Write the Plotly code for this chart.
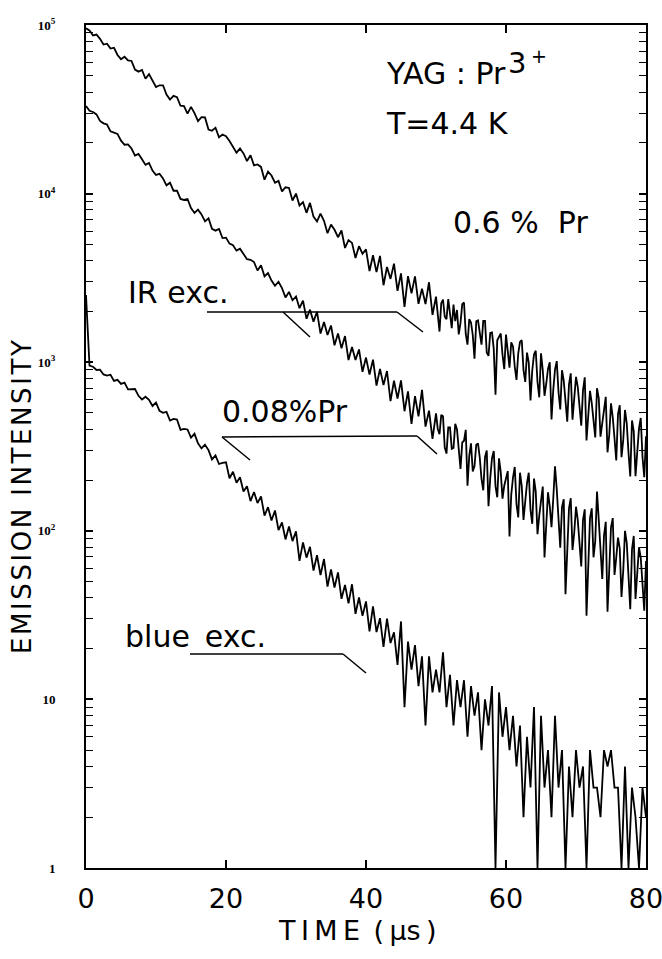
import plotly.graph_objects as go

# time bases (µs): 0.5 µs sampling, 0.25 µs sampling after 50 µs for IR-excited traces
time_blue = [i * 0.5 for i in range(161)]
time_ir = [i * 0.5 for i in range(100)] + [50 + i * 0.25 for i in range(121)]

# 0.6 % Pr, IR excitation
pr06_ir = [
    95500, 92800, 86700, 87800, 82800, 76600, 77500, 72500, 73300, 66400,
    62700, 64800, 61700, 61200, 54400, 52900, 54100, 48000, 51100, 46900,
    42900, 43900, 43900, 38700, 36100, 38000, 37300, 33200, 33000, 29800,
    32700, 30000, 26900, 28400, 28300, 24000, 23600, 24600, 21600, 22400,
    21900, 20500, 19000, 17500, 18500, 17300, 15600, 16900, 14700, 14900,
    14400, 12100, 13500, 12800, 11600, 11900, 10300, 10900, 10800, 9100,
    10000, 8500, 8900, 7690, 8810, 7300, 6840, 7600, 6900, 5820,
    6550, 6100, 5510, 6040, 4760, 5300, 5100, 4150, 4880, 4400,
    4670, 3470, 4310, 3420, 4270, 2860, 3670, 3120, 3840, 2650,
    3360, 2130, 3240, 2560, 3230, 2220, 2730, 2210, 2980, 1910,
    # 50 .. 80 µs, 0.25 µs steps
    2450, 1870, 1520, 2240, 2350, 1860, 1800, 2370, 2010, 1590,
    2200, 1750, 2040, 1460, 1710, 2210, 2260, 1470, 1270, 1800,
    1720, 1450, 1050, 1750, 1770, 1440, 1270, 1760, 1760, 1140,
    1090, 1490, 1500, 1200, 642, 1350, 1420, 1480, 1110, 911,
    1460, 1160, 928, 1310, 1240, 941, 785, 1130, 1320, 1350,
    898, 764, 1140, 993, 594, 896, 1110, 1170, 763, 619,
    1130, 899, 632, 745, 913, 1000, 458, 684, 903, 1015,
    666, 524, 896, 776, 555, 444, 739, 859, 456, 608,
    819, 713, 537, 420, 680, 813, 343, 479, 676, 572,
    456, 358, 701, 613, 362, 446, 536, 623, 292, 370,
    570, 471, 354, 261, 492, 556, 273, 346, 521, 433,
    291, 210, 451, 389, 211, 304, 405, 467, 273, 208,
    364,
]

# 0.08 % Pr, IR excitation
pr008_ir = [
    33100, 31000, 30500, 29500, 27000, 26100, 25700, 23400, 23000, 22600,
    20600, 19500, 19600, 18500, 16800, 17200, 16000, 14800, 15200, 13700,
    12900, 13100, 12300, 11200, 11600, 10400, 10400, 9300, 9170, 9290,
    8210, 7680, 8030, 7530, 6840, 7140, 6180, 6030, 6170, 5450,
    5480, 5050, 4940, 4590, 4710, 4410, 4080, 4050, 3930, 3500,
    3760, 3230, 3380, 3050, 2840, 3000, 2750, 2420, 2610, 2330,
    2450, 2090, 2320, 1810, 2050, 1740, 1990, 1480, 1730, 1450,
    1650, 1260, 1480, 1210, 1430, 1030, 1230, 1030, 1190, 877,
    1065, 844, 1035, 726, 913, 733, 887, 587, 776, 609,
    780, 512, 671, 431, 629, 477, 686, 415, 516, 351,
    # 50 .. 80 µs, 0.25 µs steps
    497, 402, 374, 487, 478, 312, 287, 411, 411, 306,
    310, 431, 399, 305, 233, 334, 342, 397, 185, 278,
    330, 225, 242, 324, 330, 272, 203, 174, 273, 299,
    140, 206, 270, 297, 184, 158, 269, 223, 155, 185,
    210, 226, 92.5, 164, 207, 239, 144, 120, 221, 184,
    116, 154, 192, 221, 133, 110, 204, 171, 95.6, 123,
    157, 183, 69.5, 110, 169, 140, 105, 155, 241, 176,
    112, 79.3, 138, 154, 42.1, 86.3, 136, 156, 77, 97.7,
    139, 116, 85.3, 61.5, 116, 134, 31.4, 67.7, 119, 136,
    69.6, 86.9, 171, 116, 74.5, 51.8, 93.6, 113, 33.1, 61.1,
    105, 119, 54.7, 69.3, 91.1, 78.5, 40.5, 58.1, 100, 84.7,
    55.7, 34.3, 77.7, 93.2, 39.4, 58.2, 79.8, 69.2, 46.5, 33.6,
    66.3,
]

# blue excitation
blue_exc = [
    2500, 955, 940, 899, 903, 846, 832, 843, 774, 786,
    744, 757, 690, 689, 693, 632, 601, 624, 599, 550,
    576, 515, 501, 508, 451, 461, 457, 397, 402, 399,
    357, 376, 330, 308, 324, 301, 265, 280, 249, 253,
    255, 205, 224, 193, 208, 171, 184, 150, 170, 146,
    160, 123, 138, 115, 132, 101, 112, 88.9, 106, 86.9,
    99.2, 66.3, 85.3, 69.3, 80.3, 58.1, 71.6, 54.6, 68, 46.7,
    59.1, 46.1, 56.6, 39.5, 47.8, 37.1, 48.2, 32.2, 40.2, 31.3,
    38.1, 25.3, 35.6, 25.1, 30.3, 20.5, 30.1, 21.6, 25, 16,
    29, 9, 22, 15, 21, 12, 18, 7, 18, 11,
    15, 11, 19, 9, 14, 7, 13, 9, 13, 6,
    12, 8, 11, 5, 10, 7, 12, 1, 11, 6,
    9, 5, 8, 4, 7, 2, 6, 3, 9, 1,
    8, 3, 5, 2, 8, 3, 5, 1, 4, 2,
    5, 3, 4, 1, 5, 3, 3, 2, 5, 4,
    5, 3, 3, 1, 4, 1, 3, 2, 1, 3,
    2,
]

x_ticks = [0, 20, 40, 60, 80]
y_ticks = [1, 10, 100, 1000, 10000, 100000]
y_ticktext = ["1", "10", "10<sup>2</sup>", "10<sup>3</sup>", "10<sup>4</sup>", "10<sup>5</sup>"]
y_minor = [k * 10 ** e for e in range(5) for k in range(2, 10)]

W, H = 662, 959
L, R, T, B = 86, 646, 25, 868


def px(x):
    return (x - L) / (R - L)


def py(y):
    return (B - y) / (B - T)


fig = go.Figure()
for tx, series in ((time_ir, pr06_ir), (time_ir, pr008_ir), (time_blue, blue_exc)):
    fig.add_trace(go.Scatter(x=tx, y=series, mode="lines",
                             line=dict(color="black", width=1.8),
                             showlegend=False, hoverinfo="skip"))

txt_font = dict(family="DejaVu Sans", size=30, color="black")
annotations = [
    dict(text="YAG : Pr", x=px(385), y=py(73), xanchor="left", yanchor="middle"),
    dict(text="3", x=px(507), y=py(63), xanchor="left", yanchor="middle",
         font=dict(family="DejaVu Sans", size=29, color="black")),
    dict(text="+", x=px(530), y=py(56), xanchor="left", yanchor="middle",
         font=dict(family="DejaVu Sans", size=19, color="black")),
    dict(text="T=4.4 K", x=px(385), y=py(124), xanchor="left", yanchor="middle"),
    dict(text="0.6 %  Pr", x=px(452), y=py(222), xanchor="left", yanchor="middle"),
    dict(text="IR exc.", x=px(127), y=py(292), xanchor="left", yanchor="middle"),
    dict(text="0.08%Pr", x=px(221), y=py(412), xanchor="left", yanchor="middle"),
    dict(text="blue\u2002exc.", x=px(124), y=py(636), xanchor="left", yanchor="middle"),
]
anns = []
for a in annotations:
    a.setdefault("font", txt_font)
    a.update(xref="paper", yref="paper", showarrow=False, borderpad=0)
    anns.append(a)

anns.append(dict(text="T\u2009I\u2009M\u2009E\u2002(\u2009\u00b5s\u2009)", x=px(357), y=py(930),
                 xref="paper", yref="paper", showarrow=False, xanchor="center", yanchor="middle",
                 font=dict(family="DejaVu Sans", size=27, color="black")))
anns.append(dict(text="E\u200aM\u200aI\u200aS\u200aS\u200aI\u200aO\u200aN\u2002I\u200aN\u200aT\u200aE\u200aN\u200aS\u200aI\u200aT\u200aY",
                 x=px(22), y=py(497), textangle=-90,
                 xref="paper", yref="paper", showarrow=False, xanchor="center", yanchor="middle",
                 font=dict(family="DejaVu Sans", size=26, color="black")))

leader_lines = [
    ((207, 312), (397, 312)), ((397, 312), (423, 332)), ((283, 312), (310, 337)),
    ((222, 437), (417, 436)), ((417, 436), (437, 454)), ((222, 437), (250, 460)),
    ((190, 654), (343, 654)), ((343, 654), (366, 673)),
]
shapes = [dict(type="line", xref="paper", yref="paper",
               x0=px(a[0]), y0=py(a[1]), x1=px(b[0]), y1=py(b[1]),
               line=dict(color="black", width=1.5))
          for a, b in leader_lines]

fig.update_layout(
    width=W, height=H,
    margin=dict(l=L, r=W - R, t=T, b=H - B, pad=0, autoexpand=False),
    paper_bgcolor="white", plot_bgcolor="white",
    annotations=anns, shapes=shapes,
    xaxis=dict(range=[0, 80], tickvals=x_ticks, ticks="inside", ticklen=8, tickwidth=1.5,
               tickcolor="black", showline=True, linecolor="black", linewidth=2,
               mirror="ticks", showgrid=False, zeroline=False, automargin=False,
               tickfont=dict(family="DejaVu Sans", size=27, color="black"),
               ticklabelstandoff=6, ticklabeloverflow="allow"),
    yaxis=dict(type="log", range=[0, 5], tickvals=y_ticks, ticktext=y_ticktext,
               ticks="inside", ticklen=7, tickwidth=1.5, tickcolor="black",
               showline=True, linecolor="black", linewidth=2, mirror="ticks",
               showgrid=False, zeroline=False, automargin=False,
               tickfont=dict(family="Liberation Serif", size=13, color="black", weight="bold"),
               ticklabelstandoff=26,
               minor=dict(tickvals=y_minor, ticks="inside", ticklen=7, tickwidth=1.3,
                          tickcolor="black", showgrid=False)),
)

fig.write_html("out.html", config={"displayModeBar": False},
               post_script="document.body.style.margin='0';document.body.style.overflow='hidden';")
